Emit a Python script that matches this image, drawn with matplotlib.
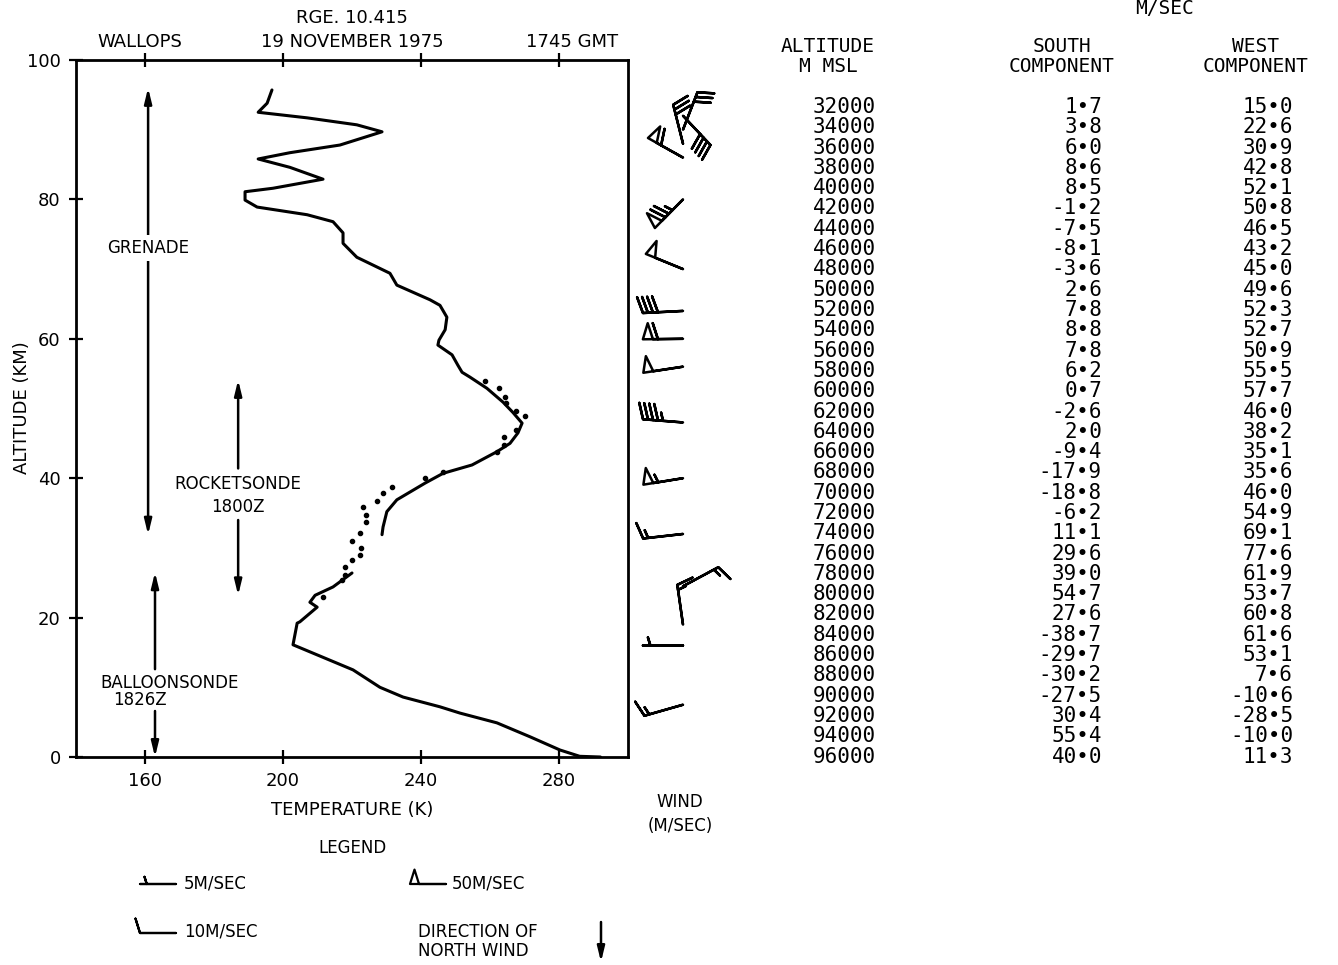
import numpy as np
import matplotlib.pyplot as plt

# perfil de temperatura (K, km)
balao_alt = [0, 0.1, 1.0, 2.9, 4.9, 6.3, 7.2, 8.6, 10.0, 12.5, 16.1, 19.2, 19.4,
             21.5, 22.2, 23.2, 24.4, 26.4]
balao_temp = [292, 286, 280.3, 271.6, 262.0, 251.3, 245.5, 234.8, 228.1, 220.3,
              202.9, 204.1, 204.9, 209.9, 207.8, 209.3, 214.5, 220.0]

foguete_alt = [31.9, 33.0, 35.2, 36.9, 39.3, 40.7, 41.9, 43.8, 45.0, 46.5, 47.9,
               49.4, 50.9, 52.9, 54.5, 55.2, 56.2, 57.7, 59.1, 59.8, 61.3, 63.1,
               64.8, 65.6, 67.7, 69.4, 71.7, 73.7, 75.2, 76.8, 77.8, 78.9, 79.9,
               81.1, 81.6, 82.9, 84.6, 85.8, 86.7, 87.8, 89.7, 90.7, 91.7, 92.5,
               93.8, 95.7]
foguete_temp = [228.7, 229.0, 230.1, 233.0, 241.2, 246.4, 254.8, 262.0, 265.8,
                268.1, 269.3, 266.7, 263.8, 259.1, 254.2, 251.9, 250.7, 249.0,
                244.9, 245.2, 247.0, 247.5, 245.5, 242.6, 233.0, 231.0, 221.4,
                217.4, 217.4, 214.5, 207.0, 192.5, 189.0, 189.0, 197.1, 211.6,
                202.0, 192.8, 202.0, 216.5, 228.7, 221.4, 207.0, 192.8, 195.4,
                196.8]

pontos_alt = [22.9, 25.4, 26.1, 27.3, 28.3, 29.0, 30.0, 31.0, 32.1, 33.7, 34.7,
              35.9, 36.7, 37.9, 38.7, 40.0, 40.9, 43.8, 44.8, 45.9, 46.9, 48.9,
              49.6, 50.8, 51.7, 52.9, 53.9]
pontos_temp = [211.6, 217.1, 218.0, 218.0, 220.0, 222.3, 222.6, 220.0, 222.3,
               224.1, 224.1, 223.2, 227.2, 229.0, 231.6, 241.2, 246.4, 262.0,
               264.1, 264.1, 267.5, 270.1, 267.5, 264.6, 264.3, 262.6, 258.6]

# barbelas de vento (km, componente oeste, componente sul) em m/s
vento_alt = [7.5, 16, 19, 24.5, 32, 40, 48, 56, 60, 64, 70, 80, 86, 88, 90, 92]
vento_u = [14, 5, 2, -13, 15.0, 52.1, 45.0, 50.9, 57.7, 38.2, 46.0, 53.7, 53.1,
           7.6, -10.6, -28.5]
vento_v = [4, 0, -14, -7, 1.7, 8.5, -3.6, 7.8, 0.7, 2.0, -18.8, 54.7, -29.7,
           -30.2, -27.5, 30.4]

# tabela
tab_alt = list(range(32000, 96001, 2000))
tab_sul = [1.7, 3.8, 6.0, 8.6, 8.5, -1.2, -7.5, -8.1, -3.6, 2.6, 7.8, 8.8, 7.8,
           6.2, 0.7, -2.6, 2.0, -9.4, -17.9, -18.8, -6.2, 11.1, 29.6, 39.0, 54.7,
           27.6, -38.7, -29.7, -30.2, -27.5, 30.4, 55.4, 40.0]
tab_oeste = [15.0, 22.6, 30.9, 42.8, 52.1, 50.8, 46.5, 43.2, 45.0, 49.6, 52.3,
             52.7, 50.9, 55.5, 57.7, 46.0, 38.2, 35.1, 35.6, 46.0, 54.9, 69.1,
             77.6, 61.9, 53.7, 60.8, 61.6, 53.1, 7.6, -10.6, -28.5, -10.0, 11.3]

W, H = 1338, 965
fig = plt.figure(figsize=(W / 100, H / 100), dpi=100)
fonte = 'DejaVu Sans'
mono = 'DejaVu Sans Mono'

# eixo de sobreposicao em pixels para textos livres
ov = fig.add_axes([0, 0, 1, 1])
ov.set_xlim(0, W)
ov.set_ylim(H, 0)
ov.axis('off')

x0, x1, y0, y1 = 76, 628, 60, 757
ax = fig.add_axes([x0 / W, 1 - y1 / H, (x1 - x0) / W, (y1 - y0) / H])
ax.plot(balao_temp, balao_alt, color='k', lw=2.2, solid_capstyle='round',
        solid_joinstyle='round')
ax.plot(foguete_temp, foguete_alt, color='k', lw=2.2, solid_capstyle='round',
        solid_joinstyle='round')
ax.plot(pontos_temp, pontos_alt, ls='none', marker='o', ms=3, color='k')
ax.set_xlim(140, 300)
ax.set_ylim(0, 100)
ax.set_xticks([160, 200, 240, 280])
ax.set_yticks([0, 20, 40, 60, 80, 100])
ax.tick_params(direction='inout', length=10, width=1.6, labelsize=13,
               top=True, pad=6)
for lab in ax.get_xticklabels() + ax.get_yticklabels():
    lab.set_family(fonte)
for s in ax.spines.values():
    s.set_linewidth(2)
ax.set_xlabel('TEMPERATURE (K)', fontsize=13, family=fonte, labelpad=8)
ov.text(22, 408, 'ALTITUDE (KM)', rotation=90, ha='center', va='center',
        fontsize=13, family=fonte)

seta = dict(arrowstyle='-|>,head_length=0.9,head_width=0.22', color='k', lw=1.8,
            shrinkA=0, shrinkB=0)
seta2 = dict(arrowstyle='<|-|>,head_length=0.9,head_width=0.22', color='k',
             lw=1.8, shrinkA=0, shrinkB=0)
ax.annotate('', xy=(160.9, 96.0), xytext=(160.9, 31.9), arrowprops=seta2)
ax.text(160.9, 73.0, 'GRENADE', ha='center', va='center', fontsize=12,
        family=fonte, bbox=dict(fc='white', ec='none', pad=3))
ax.annotate('', xy=(187, 54.1), xytext=(187, 41.4), arrowprops=seta)
ax.annotate('', xy=(187, 23.2), xytext=(187, 34.0), arrowprops=seta)
ax.text(187, 39.2, 'ROCKETSONDE', ha='center', va='center', fontsize=12, family=fonte)
ax.text(187, 35.9, '1800Z', ha='center', va='center', fontsize=12, family=fonte)
ax.annotate('', xy=(162.9, 26.5), xytext=(162.9, 12.6), arrowprops=seta)
ax.annotate('', xy=(162.9, 0), xytext=(162.9, 6.6), arrowprops=seta)
ax.text(167.2, 10.6, 'BALLOONSONDE', ha='center', va='center', fontsize=12, family=fonte)
ax.text(158.5, 8.2, '1826Z', ha='center', va='center', fontsize=12, family=fonte)

# barbelas
wax = fig.add_axes([x1 / W, 1 - y1 / H, 130 / W, (y1 - y0) / H])
wax.set_xlim(0, 130)
wax.set_ylim(0, 100)
wax.axis('off')
wax.barbs(np.full(len(vento_alt), 55.0), vento_alt, vento_u, vento_v,
          length=7.6, pivot='tip', barbcolor='k', flagcolor='white', lw=1.8,
          clip_on=False, sizes=dict(emptybarb=0))

# cabecalho
ov.text(352, 18, 'RGE. 10.415', ha='center', va='center', fontsize=13, family=fonte)
ov.text(140, 42, 'WALLOPS', ha='center', va='center', fontsize=13, family=fonte)
ov.text(352, 42, '19 NOVEMBER 1975', ha='center', va='center', fontsize=13, family=fonte)
ov.text(572, 42, '1745 GMT', ha='center', va='center', fontsize=13, family=fonte)
ov.text(680, 802, 'WIND', ha='center', va='center', fontsize=12, family=fonte)
ov.text(680, 826, '(M/SEC)', ha='center', va='center', fontsize=12, family=fonte)

# legenda
ov.text(352, 848, 'LEGEND', ha='center', va='center', fontsize=12, family=fonte)
ov.barbs([176, 176, 446], [884, 933, 884], [5, 10, 50], [0, 0, 0], length=7.2,
         pivot='tip', barbcolor='k', flagcolor='white', lw=1.6,
         sizes=dict(emptybarb=0))
ov.text(184, 883, '5M/SEC', ha='left', va='center', fontsize=12, family=fonte)
ov.text(184, 932, '10M/SEC', ha='left', va='center', fontsize=12, family=fonte)
ov.text(452, 883, '50M/SEC', ha='left', va='center', fontsize=12, family=fonte)
ov.text(418, 932, 'DIRECTION OF', ha='left', va='center', fontsize=12, family=fonte)
ov.text(418, 951, 'NORTH WIND', ha='left', va='center', fontsize=12, family=fonte)
ov.annotate('', xy=(601, 962), xytext=(601, 922), arrowprops=seta)

# tabela de vento
ov.text(1165, 8, 'M/SEC', ha='center', va='center', fontsize=14, family=mono)
ov.text(828, 47, 'ALTITUDE', ha='center', va='center', fontsize=14, family=mono)
ov.text(828, 67, 'M MSL', ha='center', va='center', fontsize=14, family=mono)
ov.text(1062, 47, 'SOUTH', ha='center', va='center', fontsize=14, family=mono)
ov.text(1062, 67, 'COMPONENT', ha='center', va='center', fontsize=14, family=mono)
ov.text(1255, 47, 'WEST', ha='center', va='center', fontsize=14, family=mono)
ov.text(1255, 67, 'COMPONENT', ha='center', va='center', fontsize=14, family=mono)
for i, (a, s, w) in enumerate(zip(tab_alt, tab_sul, tab_oeste)):
    yy = 107 + i * 20.3
    ov.text(876, yy, f'{a}', ha='right', va='center', fontsize=15, family=mono)
    ov.text(1102, yy, f'{s:.1f}'.replace('.', '•'), ha='right', va='center',
            fontsize=15, family=mono)
    ov.text(1293, yy, f'{w:.1f}'.replace('.', '•'), ha='right', va='center',
            fontsize=15, family=mono)

fig.savefig('out.png', dpi=100)
